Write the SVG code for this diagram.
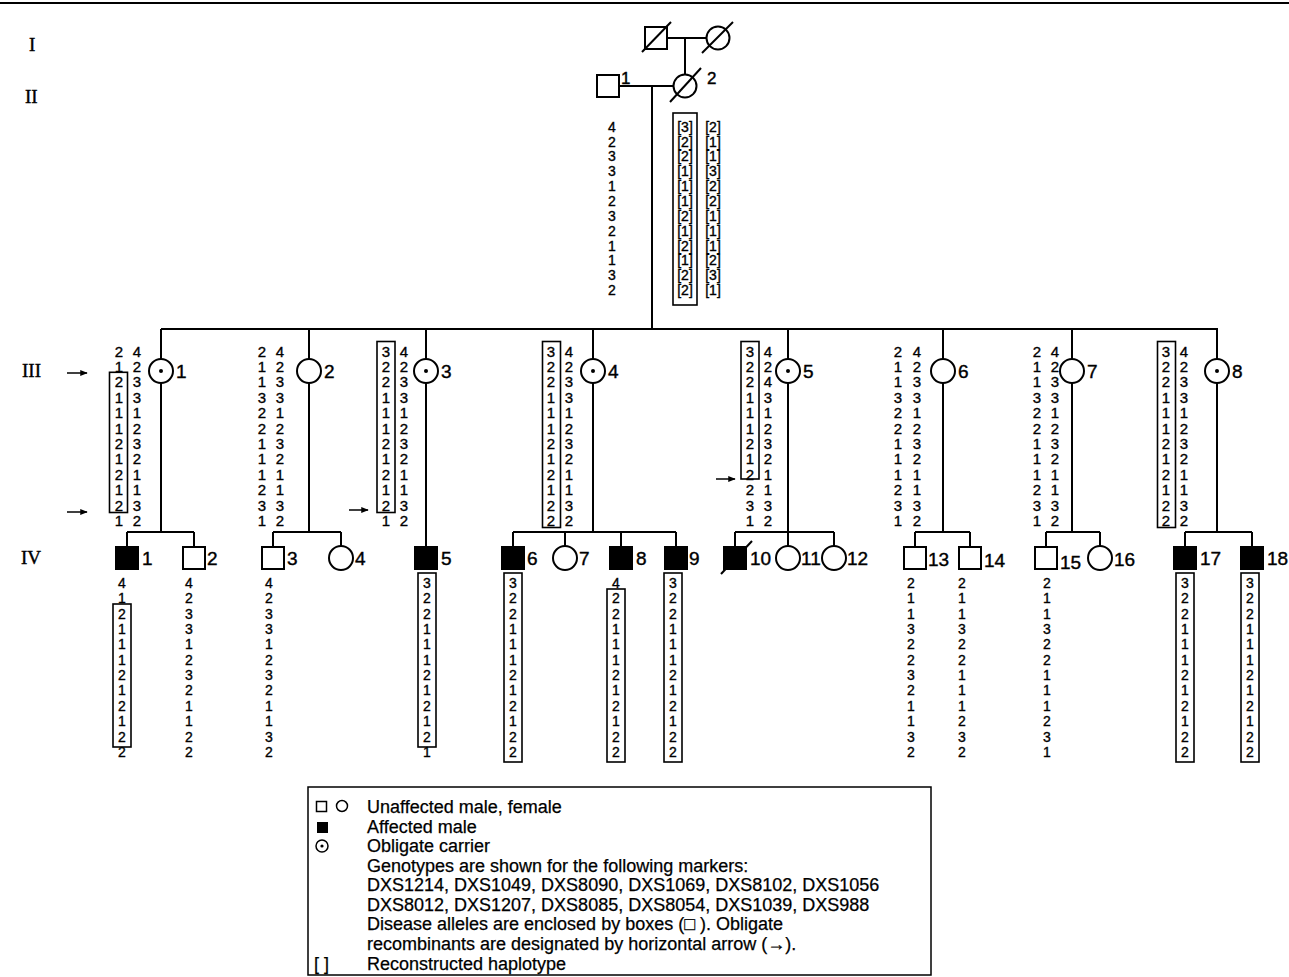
<svg xmlns="http://www.w3.org/2000/svg" width="1289" height="977" viewBox="0 0 1289 977">
<style>
.l{stroke:#000;stroke-width:2;fill:none}
.n{stroke:#000;stroke-width:2;fill:#fff}
.f{stroke:#000;stroke-width:2;fill:#000}
.hb{stroke:#000;stroke-width:1.6;fill:none}
.g{font-family:"Liberation Sans",Arial,sans-serif;font-size:15px;text-anchor:middle;fill:#000;stroke:#000;stroke-width:0.35}
.g4{font-family:"Liberation Sans",Arial,sans-serif;font-size:14px;text-anchor:middle;fill:#000;stroke:#000;stroke-width:0.35}
.lab{font-family:"Liberation Sans",Arial,sans-serif;font-size:19px;fill:#000;stroke:#000;stroke-width:0.4}
.gen{font-family:"Liberation Serif","Times New Roman",serif;font-size:19px;fill:#000;stroke:#000;stroke-width:0.4}
.lg{font-family:"Liberation Sans",Arial,sans-serif;font-size:18px;fill:#000;stroke:#000;stroke-width:0.25}
.ar{stroke:#000;stroke-width:1.5;fill:none;marker-end:url(#ah)}
</style>
<defs>
<marker id="ah" viewBox="0 0 10 10" refX="9" refY="5" markerWidth="5" markerHeight="5" orient="auto" markerUnits="strokeWidth"><path d="M0,1 L10,5 L0,9 z" fill="#000"/></marker>
</defs>
<rect width="1289" height="977" fill="#fff"/>
<line x1="0" y1="3" x2="1289" y2="3" stroke="#000" stroke-width="2"/>
<g id="gen-labels">
<text class="gen" x="29" y="51">I</text>
<text class="gen" x="25" y="103">II</text>
<text class="gen" x="22" y="377">III</text>
<text class="gen" x="21" y="564">IV</text>
</g>
<g id="connectors">
<line class="l" x1="667" y1="38" x2="706.5" y2="38"/>
<line class="l" x1="685" y1="38" x2="685" y2="75"/>
<line class="l" x1="619" y1="86" x2="673.5" y2="86"/>
<line class="l" x1="652" y1="86" x2="652" y2="329"/>
<line class="l" x1="161" y1="329" x2="1218" y2="329"/>
<path class="l" d="M161,329V359M309,329V359M426,329V359M593,329V359M788,329V359M943,329V359M1072,329V359M1217,329V359"/>
<path class="l" d="M161,383V532M127,532H194M127,532V547M194,532V547"/>
<path class="l" d="M309,383V532M273,532H341M273,532V547M341,532V546"/>
<path class="l" d="M426,383V547"/>
<path class="l" d="M593,383V532M513,532H676M513,532V547M565,532V546M621,532V547M676,532V547"/>
<path class="l" d="M788,383V546M735,532H834M735,532V547M834,532V546"/>
<path class="l" d="M943,383V532M915,532H970M915,532V547M970,532V547"/>
<path class="l" d="M1072,383V532M1046,532H1100M1046,532V547M1100,532V546"/>
<path class="l" d="M1217,383V532M1185,532H1252M1185,532V547M1252,532V547"/>
</g>
<g id="I-1"><rect class="n" x="645" y="27" width="22" height="22"/><line class="l" x1="642" y1="52" x2="671" y2="22"/></g>
<g id="I-2"><circle class="n" cx="718" cy="38" r="11.5"/><line class="l" x1="702" y1="53" x2="733" y2="22"/></g>
<g id="II-1"><rect class="n" x="597" y="75" width="22" height="22"/><text class="lab" x="621" y="84" style="font-size:17px">1</text>
<text class="g4" x="612 612 612 612 612 612 612 612 612 612 612 612" y="131.7 146.55 161.4 176.25 191.1 205.95 220.8 235.65 250.5 265.35 280.2 295.05">423312321132</text></g>
<g id="II-2"><circle class="n" cx="685" cy="86" r="11.5"/><line class="l" x1="670" y1="102" x2="701" y2="68"/><text class="lab" x="707" y="84" style="font-size:17px">2</text>
<rect class="hb" x="673" y="113" width="24" height="192"/>
<text class="g4"><tspan x="685" y="131.7">[3]</tspan><tspan x="685" y="146.55">[2]</tspan><tspan x="685" y="161.4">[2]</tspan><tspan x="685" y="176.25">[1]</tspan><tspan x="685" y="191.1">[1]</tspan><tspan x="685" y="205.95">[1]</tspan><tspan x="685" y="220.8">[2]</tspan><tspan x="685" y="235.65">[1]</tspan><tspan x="685" y="250.5">[2]</tspan><tspan x="685" y="265.35">[1]</tspan><tspan x="685" y="280.2">[2]</tspan><tspan x="685" y="295.05">[2]</tspan></text>
<text class="g4"><tspan x="713" y="131.7">[2]</tspan><tspan x="713" y="146.55">[1]</tspan><tspan x="713" y="161.4">[1]</tspan><tspan x="713" y="176.25">[3]</tspan><tspan x="713" y="191.1">[2]</tspan><tspan x="713" y="205.95">[2]</tspan><tspan x="713" y="220.8">[1]</tspan><tspan x="713" y="235.65">[1]</tspan><tspan x="713" y="250.5">[1]</tspan><tspan x="713" y="265.35">[2]</tspan><tspan x="713" y="280.2">[3]</tspan><tspan x="713" y="295.05">[1]</tspan></text></g>

<g id="III-1"><circle class="n" cx="161" cy="371" r="12"/><circle cx="161" cy="371" r="2"/><text class="lab" x="176" y="378">1</text>
<text class="g" x="119 119 119 119 119 119 119 119 119 119 119 119" y="356.5 371.9 387.3 402.7 418.1 433.5 448.9 464.3 479.7 495.1 510.5 525.9">212111212121</text>
<text class="g" x="137 137 137 137 137 137 137 137 137 137 137 137" y="356.5 371.9 387.3 402.7 418.1 433.5 448.9 464.3 479.7 495.1 510.5 525.9">423312321132</text>
<rect class="hb" x="109.5" y="372.3" width="18" height="140.2"/>
<line class="ar" x1="67" y1="373" x2="87" y2="373"/><line class="ar" x1="67" y1="512" x2="87" y2="512"/></g>
<g id="III-2"><circle class="n" cx="309" cy="371" r="12"/><text class="lab" x="324" y="378">2</text>
<text class="g" x="262 262 262 262 262 262 262 262 262 262 262 262" y="356.5 371.9 387.3 402.7 418.1 433.5 448.9 464.3 479.7 495.1 510.5 525.9">211322111231</text>
<text class="g" x="280 280 280 280 280 280 280 280 280 280 280 280" y="356.5 371.9 387.3 402.7 418.1 433.5 448.9 464.3 479.7 495.1 510.5 525.9">423312321132</text></g>
<g id="III-3"><circle class="n" cx="426" cy="371" r="12"/><circle cx="426" cy="371" r="2"/><text class="lab" x="441" y="378">3</text>
<text class="g" x="386 386 386 386 386 386 386 386 386 386 386 386" y="356.5 371.9 387.3 402.7 418.1 433.5 448.9 464.3 479.7 495.1 510.5 525.9">322111212121</text>
<text class="g" x="404 404 404 404 404 404 404 404 404 404 404 404" y="356.5 371.9 387.3 402.7 418.1 433.5 448.9 464.3 479.7 495.1 510.5 525.9">423312321132</text>
<rect class="hb" x="377" y="341.5" width="18" height="171"/>
<line class="ar" x1="349" y1="510" x2="368" y2="510"/></g>
<g id="III-4"><circle class="n" cx="593" cy="371" r="12"/><circle cx="593" cy="371" r="2"/><text class="lab" x="608" y="378">4</text>
<text class="g" x="551 551 551 551 551 551 551 551 551 551 551 551" y="356.5 371.9 387.3 402.7 418.1 433.5 448.9 464.3 479.7 495.1 510.5 525.9">322111212122</text>
<text class="g" x="569 569 569 569 569 569 569 569 569 569 569 569" y="356.5 371.9 387.3 402.7 418.1 433.5 448.9 464.3 479.7 495.1 510.5 525.9">423312321132</text>
<rect class="hb" x="542.5" y="341.5" width="18" height="186"/></g>
<g id="III-5"><circle class="n" cx="788" cy="371" r="12"/><circle cx="788" cy="371" r="2"/><text class="lab" x="803" y="378">5</text>
<text class="g" x="750 750 750 750 750 750 750 750 750 750 750 750" y="356.5 371.9 387.3 402.7 418.1 433.5 448.9 464.3 479.7 495.1 510.5 525.9">322111212231</text>
<text class="g" x="768 768 768 768 768 768 768 768 768 768 768 768" y="356.5 371.9 387.3 402.7 418.1 433.5 448.9 464.3 479.7 495.1 510.5 525.9">424312321132</text>
<rect class="hb" x="741" y="341.5" width="18" height="137.5"/>
<line class="ar" x1="716" y1="479" x2="735" y2="479"/></g>
<g id="III-6"><circle class="n" cx="943" cy="371" r="12"/><text class="lab" x="958" y="378">6</text>
<text class="g" x="898 898 898 898 898 898 898 898 898 898 898 898" y="356.5 371.9 387.3 402.7 418.1 433.5 448.9 464.3 479.7 495.1 510.5 525.9">211322111231</text>
<text class="g" x="917 917 917 917 917 917 917 917 917 917 917 917" y="356.5 371.9 387.3 402.7 418.1 433.5 448.9 464.3 479.7 495.1 510.5 525.9">423312321132</text></g>
<g id="III-7"><circle class="n" cx="1072" cy="371" r="12"/><text class="lab" x="1087" y="378">7</text>
<text class="g" x="1037 1037 1037 1037 1037 1037 1037 1037 1037 1037 1037 1037" y="356.5 371.9 387.3 402.7 418.1 433.5 448.9 464.3 479.7 495.1 510.5 525.9">211322111231</text>
<text class="g" x="1055 1055 1055 1055 1055 1055 1055 1055 1055 1055 1055 1055" y="356.5 371.9 387.3 402.7 418.1 433.5 448.9 464.3 479.7 495.1 510.5 525.9">423312321132</text></g>
<g id="III-8"><circle class="n" cx="1217" cy="371" r="12"/><circle cx="1217" cy="371" r="2"/><text class="lab" x="1232" y="378">8</text>
<text class="g" x="1166 1166 1166 1166 1166 1166 1166 1166 1166 1166 1166 1166" y="356.5 371.9 387.3 402.7 418.1 433.5 448.9 464.3 479.7 495.1 510.5 525.9">322111212122</text>
<text class="g" x="1184 1184 1184 1184 1184 1184 1184 1184 1184 1184 1184 1184" y="356.5 371.9 387.3 402.7 418.1 433.5 448.9 464.3 479.7 495.1 510.5 525.9">423312321132</text>
<rect class="hb" x="1157.5" y="341.5" width="18" height="186"/></g>

<g id="IV-1"><rect class="f" x="116" y="547" width="22" height="22"/><text class="lab" x="142" y="565">1</text>
<text class="g4" x="122 122 122 122 122 122 122 122 122 122 122 122" y="588 603.35 618.7 634.05 649.4 664.75 680.1 695.45 710.8 726.15 741.5 756.85">412111212122</text>
<rect class="hb" x="113" y="604" width="18" height="143"/></g>
<g id="IV-2"><rect class="n" x="183" y="547" width="22" height="22"/><text class="lab" x="207" y="565">2</text>
<text class="g4" x="189 189 189 189 189 189 189 189 189 189 189 189" y="588 603.35 618.7 634.05 649.4 664.75 680.1 695.45 710.8 726.15 741.5 756.85">423312321122</text></g>
<g id="IV-3"><rect class="n" x="262" y="547" width="22" height="22"/><text class="lab" x="287" y="565">3</text>
<text class="g4" x="269 269 269 269 269 269 269 269 269 269 269 269" y="588 603.35 618.7 634.05 649.4 664.75 680.1 695.45 710.8 726.15 741.5 756.85">423312321132</text></g>
<g id="IV-4"><circle class="n" cx="341" cy="558" r="12"/><text class="lab" x="355" y="565">4</text></g>
<g id="IV-5"><rect class="f" x="415" y="547" width="22" height="22"/><text class="lab" x="441" y="565">5</text>
<text class="g4" x="427 427 427 427 427 427 427 427 427 427 427 427" y="588 603.35 618.7 634.05 649.4 664.75 680.1 695.45 710.8 726.15 741.5 756.85">322111212121</text>
<rect class="hb" x="418" y="573" width="18" height="174"/></g>
<g id="IV-6"><rect class="f" x="502" y="547" width="22" height="22"/><text class="lab" x="527" y="565">6</text>
<text class="g4" x="513 513 513 513 513 513 513 513 513 513 513 513" y="588 603.35 618.7 634.05 649.4 664.75 680.1 695.45 710.8 726.15 741.5 756.85">322111212122</text>
<rect class="hb" x="504" y="573" width="18" height="189"/></g>
<g id="IV-7"><circle class="n" cx="565" cy="558" r="12"/><text class="lab" x="579" y="565">7</text></g>
<g id="IV-8"><rect class="f" x="610" y="547" width="22" height="22"/><text class="lab" x="636" y="565">8</text>
<text class="g4" x="616 616 616 616 616 616 616 616 616 616 616 616" y="588 603.35 618.7 634.05 649.4 664.75 680.1 695.45 710.8 726.15 741.5 756.85">422111212122</text>
<rect class="hb" x="607" y="589" width="18" height="173"/></g>
<g id="IV-9"><rect class="f" x="665" y="547" width="22" height="22"/><text class="lab" x="689" y="565">9</text>
<text class="g4" x="673 673 673 673 673 673 673 673 673 673 673 673" y="588 603.35 618.7 634.05 649.4 664.75 680.1 695.45 710.8 726.15 741.5 756.85">322111212122</text>
<rect class="hb" x="664" y="573" width="18" height="189"/></g>
<g id="IV-10"><rect class="f" x="724" y="547" width="22" height="22"/><line class="l" x1="721" y1="574" x2="752" y2="541"/><text class="lab" x="750" y="565">10</text></g>
<g id="IV-11"><circle class="n" cx="788" cy="558" r="12"/><text class="lab" x="801" y="565">11</text></g>
<g id="IV-12"><circle class="n" cx="834" cy="558" r="12"/><text class="lab" x="847" y="565">12</text></g>
<g id="IV-13"><rect class="n" x="904" y="547" width="22" height="22"/><text class="lab" x="928" y="566">13</text>
<text class="g4" x="911 911 911 911 911 911 911 911 911 911 911 911" y="588 603.35 618.7 634.05 649.4 664.75 680.1 695.45 710.8 726.15 741.5 756.85">211322321132</text></g>
<g id="IV-14"><rect class="n" x="959" y="547" width="22" height="22"/><text class="lab" x="984" y="567">14</text>
<text class="g4" x="962 962 962 962 962 962 962 962 962 962 962 962" y="588 603.35 618.7 634.05 649.4 664.75 680.1 695.45 710.8 726.15 741.5 756.85">211322111232</text></g>
<g id="IV-15"><rect class="n" x="1035" y="547" width="22" height="22"/><text class="lab" x="1060" y="569">15</text>
<text class="g4" x="1047 1047 1047 1047 1047 1047 1047 1047 1047 1047 1047 1047" y="588 603.35 618.7 634.05 649.4 664.75 680.1 695.45 710.8 726.15 741.5 756.85">211322111231</text></g>
<g id="IV-16"><circle class="n" cx="1100" cy="558" r="12"/><text class="lab" x="1114" y="566">16</text></g>
<g id="IV-17"><rect class="f" x="1174" y="547" width="22" height="22"/><text class="lab" x="1200" y="565">17</text>
<text class="g4" x="1185 1185 1185 1185 1185 1185 1185 1185 1185 1185 1185 1185" y="588 603.35 618.7 634.05 649.4 664.75 680.1 695.45 710.8 726.15 741.5 756.85">322111212122</text>
<rect class="hb" x="1176" y="573" width="18" height="189"/></g>
<g id="IV-18"><rect class="f" x="1241" y="547" width="22" height="22"/><text class="lab" x="1267" y="565">18</text>
<text class="g4" x="1250 1250 1250 1250 1250 1250 1250 1250 1250 1250 1250 1250" y="588 603.35 618.7 634.05 649.4 664.75 680.1 695.45 710.8 726.15 741.5 756.85">322111212122</text>
<rect class="hb" x="1241" y="573" width="18" height="189"/></g>

<g id="legend">
<rect x="308" y="787" width="623" height="188" fill="none" stroke="#000" stroke-width="1.5"/>
<rect x="316.5" y="801.5" width="10" height="10" fill="none" stroke="#000" stroke-width="1.5"/>
<circle cx="342" cy="806" r="5.5" fill="none" stroke="#000" stroke-width="1.5"/>
<rect x="317" y="822" width="11" height="11" fill="#000"/>
<circle cx="322" cy="846" r="6" fill="none" stroke="#000" stroke-width="1.5"/><circle cx="322" cy="846" r="1.6" fill="#000"/>
<text class="lg" x="314" y="970">[ ]</text>
<text class="lg" x="367" y="813">Unaffected male, female</text>
<text class="lg" x="367" y="833">Affected male</text>
<text class="lg" x="367" y="852">Obligate carrier</text>
<text class="lg" x="367" y="872">Genotypes are shown for the following markers:</text>
<text class="lg" x="367" y="891">DXS1214, DXS1049, DXS8090, DXS1069, DXS8102, DXS1056</text>
<text class="lg" x="367" y="911">DXS8012, DXS1207, DXS8085, DXS8054, DXS1039, DXS988</text>
<text class="lg" x="367" y="930">Disease alleles are enclosed by boxes (□ ).  Obligate</text>
<text class="lg" x="367" y="950">recombinants are designated by horizontal arrow (→).</text>
<text class="lg" x="367" y="970">Reconstructed haplotype</text>
</g>
</svg>
